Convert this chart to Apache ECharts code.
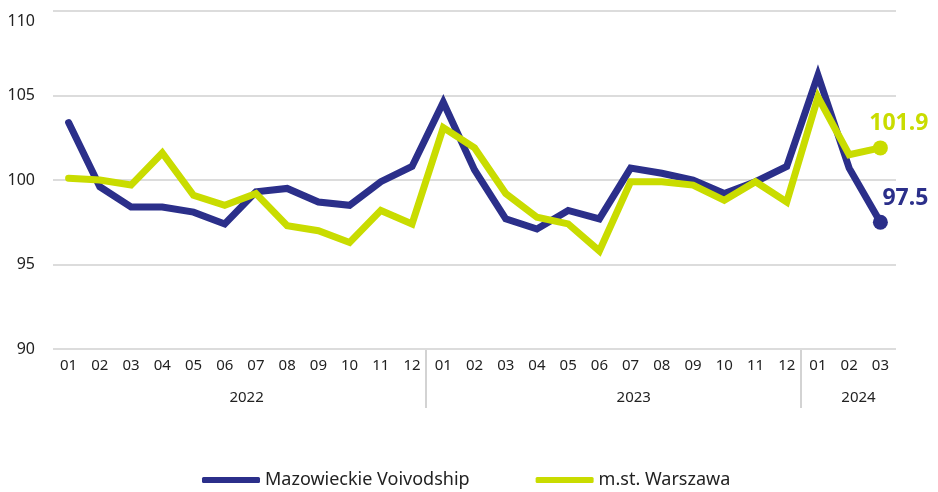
<!DOCTYPE html>
<html>
<head>
<meta charset="utf-8">
<script src="https://cdn.jsdelivr.net/npm/echarts@6/dist/echarts.min.js"></script>
<style>html,body{margin:0;padding:0;background:#fff;}#c{width:938px;height:492px;}</style>
</head>
<body>
<div id="c"></div>
<script>
const months = ['01','02','03','04','05','06','07','08','09','10','11','12',
                '01','02','03','04','05','06','07','08','09','10','11','12',
                '01','02','03'];
const years = ['2022','2023','2024'];
const yearLabelPos = [5.7, 18.1, 25.3];   // fractional category index for year captions
const yearBreaks = [12, 24];               // category index where a new year starts
const mazowieckie = [103.4, 99.6, 98.4, 98.4, 98.1, 97.4, 99.3, 99.5, 98.7, 98.5, 99.9, 100.8,
                     104.6, 100.6, 97.7, 97.1, 98.2, 97.7, 100.7, 100.4, 100.0, 99.2, 99.9, 100.8,
                     106.2, 100.7, 97.5];
const warszawa = [100.1, 100.0, 99.7, 101.6, 99.1, 98.5, 99.2, 97.3, 97.0, 96.3, 98.2, 97.4,
                  103.1, 101.9, 99.2, 97.8, 97.4, 95.8, 99.9, 99.9, 99.7, 98.8, 99.9, 98.7,
                  104.9, 101.5, 101.9];
const seriesNames = ['Mazowieckie Voivodship', 'm.st. Warszawa'];
const yTicks = {min: 90, max: 110, interval: 5};

const BLUE = '#2b2f8a', GREEN = '#c9dc00';
const FONT = "'Noto Sans', sans-serif";
const TXT = '#222';

function withEndLabel(arr, color) {
  return arr.map((v, i) => {
    if (i !== arr.length - 1) return v;
    return {
      value: v, symbol: 'circle', symbolSize: 15,
      itemStyle: {color: color},
      label: {
        show: true, position: 'inside', align: 'right', verticalAlign: 'middle',
        offset: [48, -24], color: color, fontFamily: FONT, fontWeight: 'bold',
        fontSize: 23, formatter: (p) => p.value.toFixed(1)
      }
    };
  });
}

const chart = echarts.init(document.getElementById('c'), null, {renderer: 'canvas'});
chart.setOption({
  animation: false,
  backgroundColor: '#fff',
  grid: {left: 53, right: 42, top: 11, bottom: 143, containLabel: false},
  legend: {
    data: seriesNames, left: 202, top: 471, padding: 0, icon: 'roundRect',
    itemWidth: 58, itemHeight: 6, itemGap: 66,
    textStyle: {fontFamily: FONT, fontSize: 18, color: TXT}
  },
  xAxis: {
    type: 'category', data: months, boundaryGap: true,
    axisLine: {show: false},
    axisTick: {show: false},
    axisLabel: {interval: 0, margin: 9, fontFamily: FONT, fontSize: 15, color: TXT}
  },
  yAxis: {
    type: 'value', min: yTicks.min, max: yTicks.max, interval: yTicks.interval,
    axisLine: {show: false}, axisTick: {show: false},
    axisLabel: {
      margin: 18, fontFamily: FONT, fontSize: 16, color: TXT,
      formatter: (v) => v === yTicks.max ? '{t|' + v + '}' : String(v),
      rich: {t: {fontFamily: FONT, fontSize: 16, color: TXT, padding: [20, 0, 0, 0]}}
    },
    splitLine: {lineStyle: {color: '#dcdcdc', width: 2}}
  },
  series: [
    {
      name: seriesNames[0], type: 'line', data: withEndLabel(mazowieckie, BLUE),
      color: BLUE, symbol: 'none', showSymbol: true,
      lineStyle: {width: 7, color: BLUE, cap: 'round', join: 'miter'}, z: 2
    },
    {
      name: seriesNames[1], type: 'line', data: withEndLabel(warszawa, GREEN),
      color: GREEN, symbol: 'none', showSymbol: true,
      lineStyle: {width: 7, color: GREEN, cap: 'round', join: 'miter'}, z: 3
    }
  ]
});

// Year captions and year separators, positioned via the axis scale
const x0 = chart.convertToPixel({xAxisIndex: 0}, 0);
const x1 = chart.convertToPixel({xAxisIndex: 0}, 1);
const step = x1 - x0;
const axisY = chart.convertToPixel({yAxisIndex: 0}, yTicks.min);
const captions = years.map((y, i) => ({
  type: 'text',
  x: x0 + yearLabelPos[i] * step, y: axisY + 49,
  style: {text: y, fontFamily: FONT, fontSize: 15, fill: TXT, align: 'center', verticalAlign: 'middle'}
}));
const seps = yearBreaks.map((b) => {
  const xs = Math.round(x0 + (b - 0.55) * step);
  return {
    type: 'line',
    shape: {x1: xs, y1: axisY + 1, x2: xs, y2: axisY + 59},
    style: {stroke: '#d3d3d3', lineWidth: 2}
  };
});
chart.setOption({graphic: captions.concat(seps)});
</script>
</body>
</html>
